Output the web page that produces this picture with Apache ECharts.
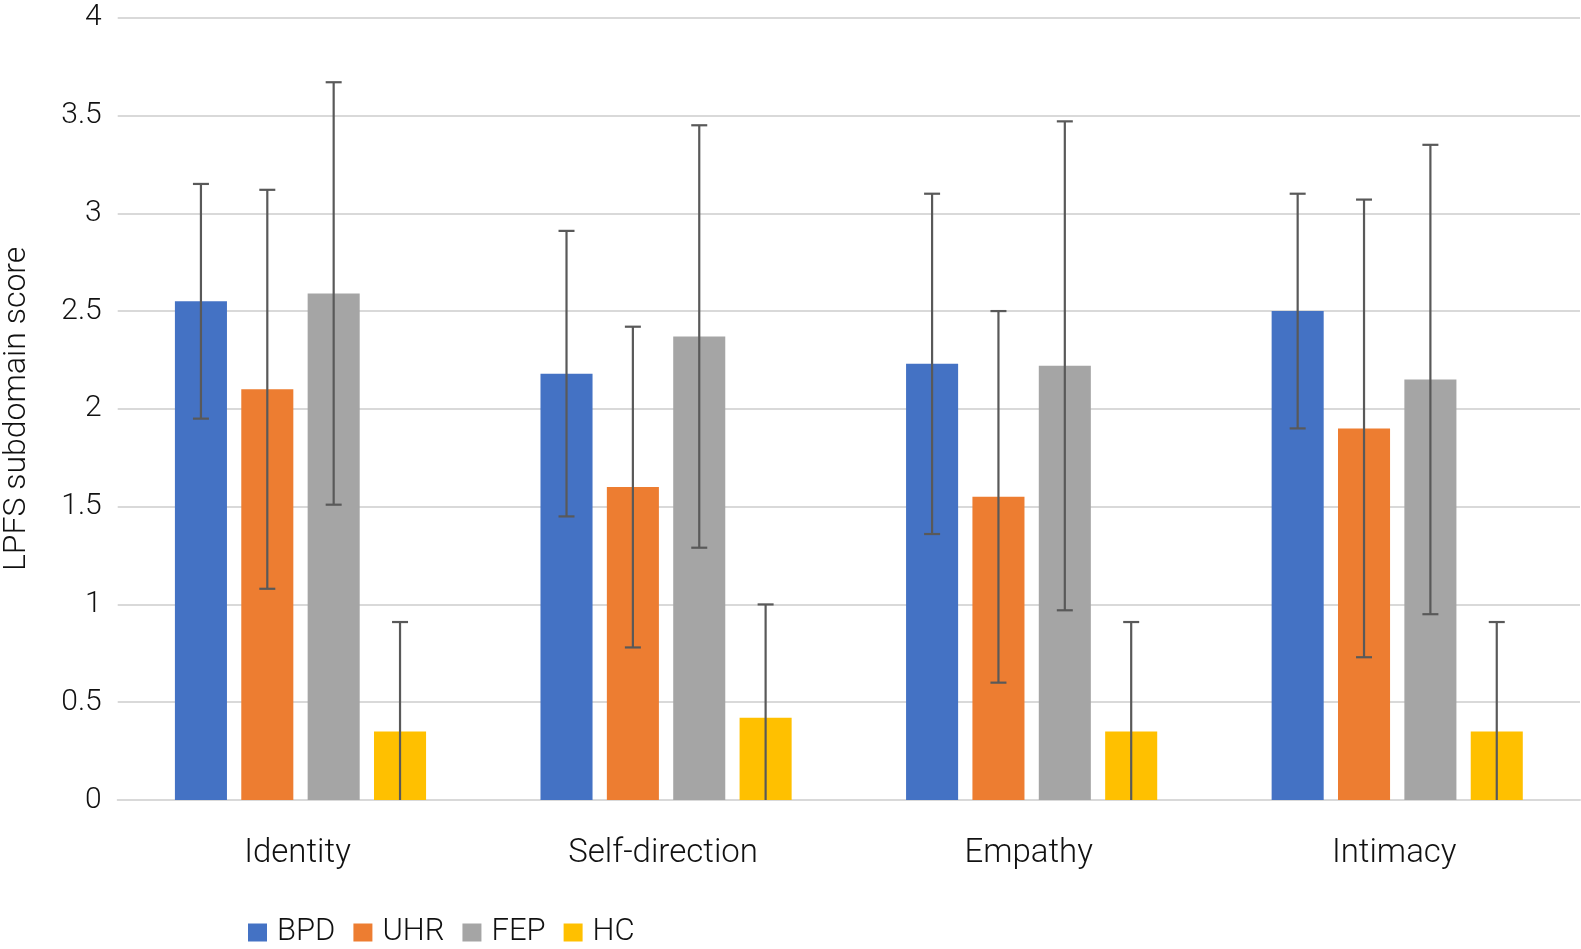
<!DOCTYPE html>
<html>
<head>
<meta charset="utf-8">
<script src="https://cdn.jsdelivr.net/npm/echarts@6/dist/echarts.min.js"></script>
<style>
html,body{margin:0;padding:0;background:#fff;}
#chart{width:1581px;height:949px;}
</style>
</head>
<body>
<div id="chart"></div>
<script>
const categories = ['Identity', 'Self-direction', 'Empathy', 'Intimacy'];
const groups = ['BPD', 'UHR', 'FEP', 'HC'];
const colors = ['#4472C4', '#ED7D31', '#A5A5A5', '#FFC000'];
const meanBPD = [2.55, 2.18, 2.23, 2.50];
const meanUHR = [2.10, 1.60, 1.55, 1.90];
const meanFEP = [2.59, 2.37, 2.22, 2.15];
const meanHC  = [0.35, 0.42, 0.35, 0.35];
const lowBPD  = [1.95, 1.45, 1.36, 1.90];
const highBPD = [3.15, 2.91, 3.10, 3.10];
const lowUHR  = [1.08, 0.78, 0.60, 0.73];
const highUHR = [3.12, 2.42, 2.50, 3.07];
const lowFEP  = [1.51, 1.29, 0.97, 0.95];
const highFEP = [3.67, 3.45, 3.47, 3.35];
const lowHC   = [0, 0, 0, 0];
const highHC  = [0.91, 1.00, 0.91, 0.91];
const yTicks = ['0', '0.5', '1', '1.5', '2', '2.5', '3', '3.5', '4'];

const means = [meanBPD, meanUHR, meanFEP, meanHC];
const lows = [lowBPD, lowUHR, lowFEP, lowHC];
const highs = [highBPD, highUHR, highFEP, highHC];

const FONT = 'Roboto, "Noto Sans", sans-serif';
const FW = 300;
const BAR_GAP = 0.275;
const CAT_GAP = 0.313;
const N = groups.length;

const chart = echarts.init(document.getElementById('chart'));

const series = [];
groups.forEach((g, i) => {
  series.push({
    name: g,
    type: 'bar',
    data: means[i],
    itemStyle: { color: colors[i] },
    barGap: (BAR_GAP * 100) + '%',
    barCategoryGap: (CAT_GAP * 100) + '%',
    z: 2
  });
});
groups.forEach((g, i) => {
  series.push({
    name: g + ' error',
    type: 'custom',
    z: 5,
    data: categories.map((c, k) => [k, lows[i][k], highs[i][k]]),
    renderItem: function (params, api) {
      const k = api.value(0);
      const band = api.size([1, 0])[0];
      const groupW = band * (1 - CAT_GAP);
      const w = groupW / (N + (N - 1) * BAR_GAP);
      const center = api.coord([k, 0])[0];
      const x = center - groupW / 2 + w / 2 + i * w * (1 + BAR_GAP);
      const yLow = api.coord([k, api.value(1)])[1];
      const yHigh = api.coord([k, api.value(2)])[1];
      const cap = 8;
      const style = { stroke: '#595959', lineWidth: 2.2 };
      const children = [
        { type: 'line', shape: { x1: x, y1: yLow, x2: x, y2: yHigh }, style: style },
        { type: 'line', shape: { x1: x - cap, y1: yHigh, x2: x + cap, y2: yHigh }, style: style }
      ];
      if (api.value(1) > 0) {
        children.push({ type: 'line', shape: { x1: x - cap, y1: yLow, x2: x + cap, y2: yLow }, style: style });
      }
      return { type: 'group', children: children };
    },
    silent: true
  });
});

chart.setOption({
  animation: false,
  grid: { left: 117.7, right: 1, top: 17.7, bottom: 149, containLabel: false, outerBoundsMode: 'none' },
  legend: {
    data: groups,
    left: 243,
    top: 912,
    itemWidth: 19,
    itemHeight: 18,
    itemGap: 18,
    icon: 'rect',
    textStyle: { fontFamily: FONT, fontWeight: FW, fontSize: 31, color: '#111', padding: [0, 0, 0, 5] }
  },
  xAxis: {
    type: 'category',
    data: categories,
    axisLine: { lineStyle: { color: '#D9D9D9', width: 2 } },
    axisTick: { show: false },
    axisLabel: { fontFamily: FONT, fontWeight: FW, fontSize: 33, color: '#111', margin: 37, padding: [0, 6, 0, 0] }
  },
  yAxis: {
    type: 'value',
    min: 0,
    max: 4,
    interval: 0.5,
    name: 'LPFS subdomain score',
    nameLocation: 'middle',
    nameGap: 85,
    nameRotate: 90,
    nameTextStyle: { fontFamily: FONT, fontWeight: FW, fontSize: 32, color: '#111' },
    axisLine: { show: false },
    axisTick: { show: false },
    splitLine: { lineStyle: { color: '#D9D9D9', width: 2 } },
    axisLabel: {
      fontFamily: FONT, fontWeight: FW, fontSize: 30, color: '#111', margin: 16,
      formatter: function (v) { return yTicks[Math.round(v * 2)]; }
    }
  },
  series: series
});
</script>
</body>
</html>
